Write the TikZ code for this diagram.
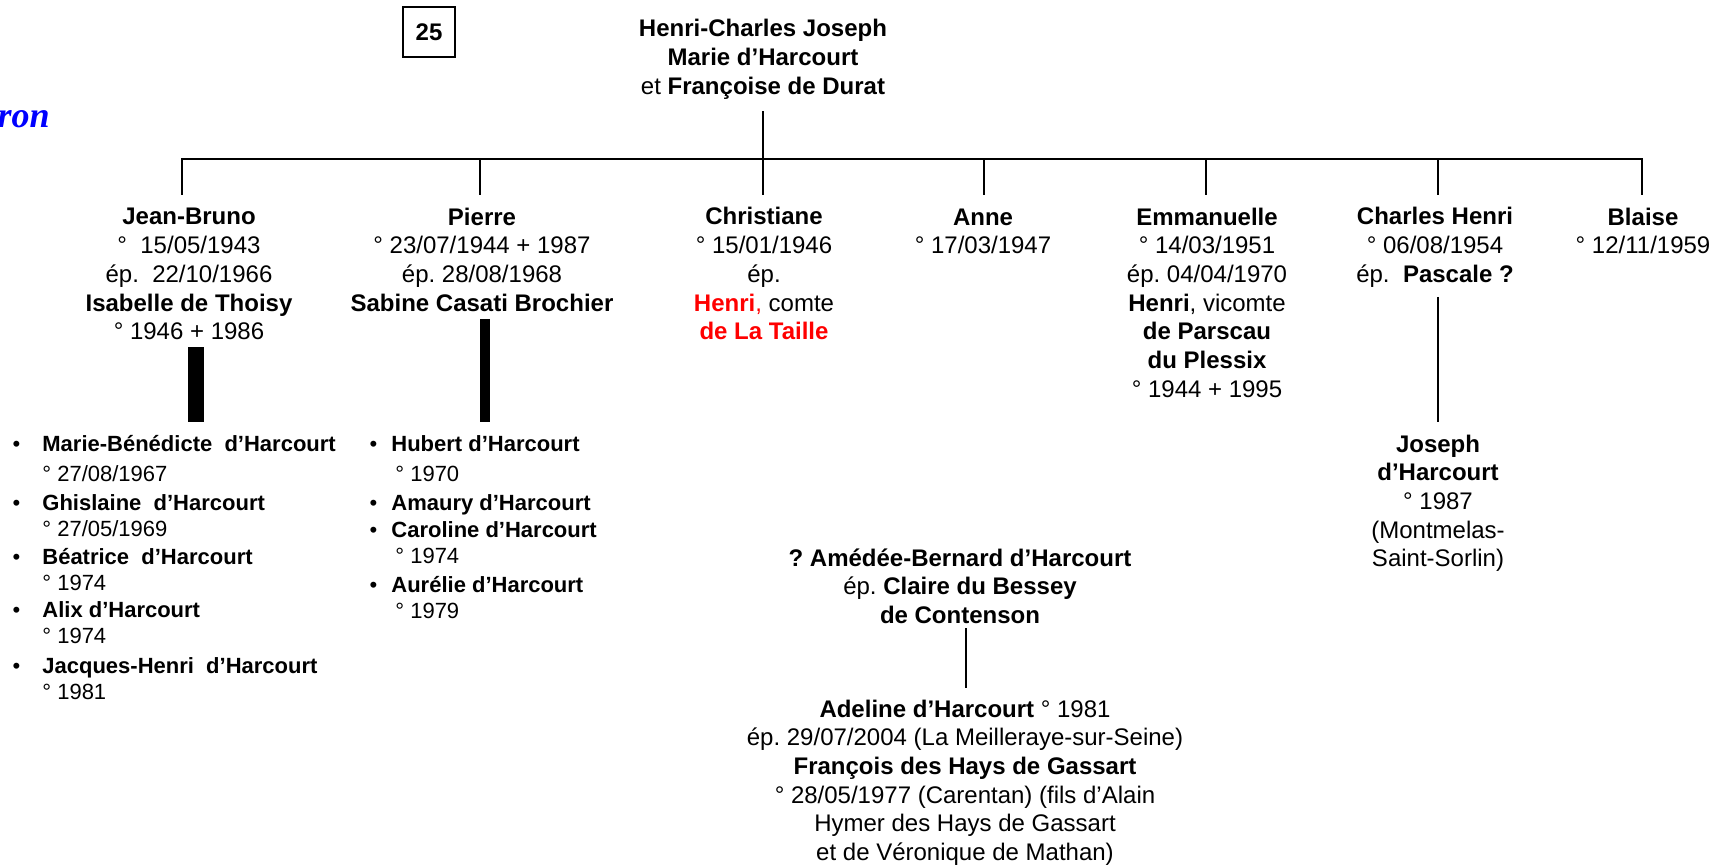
\documentclass[tikz,border=0pt]{standalone}
\usepackage{fontspec}
\setmainfont{Liberation Sans}
\newfontfamily\titrefont{Liberation Serif}
\usetikzlibrary{positioning}
\frenchspacing

\newcommand\haut[1]{\rule{0pt}{#1}}

\tikzset{
  lien/.style={line width=1.35pt},
  fiche/.style={align=center, anchor=north, inner sep=0pt, font=\fontsize{12}{14.35}\selectfont},
  enfant/.style={align=left, anchor=north west, inner sep=0pt, font=\fontsize{11}{13}\selectfont},
}

\begin{document}
\begin{tikzpicture}[x=0.5pt, y=-0.5pt]
  \useasboundingbox (0,0) rectangle (1733,866);

  \node[anchor=base east, inner sep=0pt, text=blue,
        font={\fontsize{18}{20}\titrefont\bfseries\itshape}] (titre) at (50,128) {ron};
  \node[draw, line width=0.7pt, minimum width=26pt, minimum height=25pt, inner sep=0pt,
        font=\fontsize{12}{14}\selectfont\bfseries] (num) at (429,32) {25};

  % parents
  \node[fiche] (hc) at (763,16.6) {\haut{10pt}\textbf{Henri-Charles Joseph}\\\textbf{Marie d’Harcourt}\\et \textbf{Françoise de Durat}};

  % enfants
  \node[fiche] (jb)  at (189,204.6)  {\haut{10pt}\textbf{Jean-Bruno}\\° \ 15/05/1943\\ép. \ 22/10/1966\\\textbf{Isabelle de Thoisy}\\° 1946 + 1986};
  \node[fiche] (pi)  at (482,204.6)  {\haut{10pt}\textbf{Pierre}\\° 23/07/1944 + 1987\\ép. 28/08/1968\\\textbf{Sabine Casati Brochier}};
  \node[fiche] (ch)  at (764,204.6)  {\haut{10pt}\textbf{Christiane}\\° 15/01/1946\\ép.\\\textcolor{red}{\textbf{Henri},} comte\\\textcolor{red}{\textbf{de La Taille}}};
  \node[fiche] (an)  at (983,204.6)  {\haut{10pt}\textbf{Anne}\\° 17/03/1947};
  \node[fiche] (em)  at (1207,204.6) {\haut{10pt}\textbf{Emmanuelle}\\° 14/03/1951\\ép. 04/04/1970\\\textbf{Henri}, vicomte\\\textbf{de Parscau}\\\textbf{du Plessix}\\° 1944 + 1995};
  \node[fiche] (chh) at (1435,204.6) {\haut{10pt}\textbf{Charles Henri}\\° 06/08/1954\\ép.\ \ \textbf{Pascale ?}};
  \node[fiche] (bl)  at (1643,204.6) {\haut{10pt}\textbf{Blaise}\\° 12/11/1959};

  % petits-enfants
  \node[enfant] (mb) at (42,433) {\llap{\textbullet\hspace{11pt}}\haut{9pt}\textbf{Marie-Bénédicte\ \ d’Harcourt}\\[2pt]° 27/08/1967};
  \node[enfant] (gh) at (42,492) {\llap{\textbullet\hspace{11pt}}\haut{9pt}\textbf{Ghislaine\ \ d’Harcourt}\\° 27/05/1969};
  \node[enfant] (be) at (42,546) {\llap{\textbullet\hspace{11pt}}\haut{9pt}\textbf{Béatrice\ \ d’Harcourt}\\° 1974};
  \node[enfant] (al) at (42,599) {\llap{\textbullet\hspace{11pt}}\haut{9pt}\textbf{Alix d’Harcourt}\\° 1974};
  \node[enfant] (jh) at (42,655) {\llap{\textbullet\hspace{11pt}}\haut{9pt}\textbf{Jacques-Henri\ \ d’Harcourt}\\° 1981};

  \node[enfant] (hu) at (391,433) {\llap{\textbullet\hspace{7pt}}\haut{9pt}\textbf{Hubert d’Harcourt}\\[2pt]\hspace{2pt}° 1970};
  \node[enfant] (am) at (391,492) {\llap{\textbullet\hspace{7pt}}\haut{9pt}\textbf{Amaury d’Harcourt}};
  \node[enfant] (ca) at (391,519) {\llap{\textbullet\hspace{7pt}}\haut{9pt}\textbf{Caroline d’Harcourt}\\\hspace{2pt}° 1974};
  \node[enfant] (au) at (391,574) {\llap{\textbullet\hspace{7pt}}\haut{9pt}\textbf{Aurélie d’Harcourt}\\\hspace{2pt}° 1979};

  \node[fiche] (jo) at (1438,431.6) {\haut{10pt}\textbf{Joseph}\\\textbf{d’Harcourt}\\° 1987\\(Montmelas-\\Saint-Sorlin)};

  \node[fiche] (ab) at (960,545.6) {\haut{10pt}\textbf{? Amédée-Bernard d’Harcourt}\\ép. \textbf{Claire du Bessey}\\\textbf{de Contenson}};
  \node[fiche] (ad) at (965,696.6) {\haut{10pt}\textbf{Adeline d’Harcourt} ° 1981\\ép. 29/07/2004 (La Meilleraye-sur-Seine)\\\textbf{François des Hays de Gassart}\\° 28/05/1977 (Carentan) (fils d’Alain\\Hymer des Hays de Gassart\\et de Véronique de Mathan)};

  % liens
  \foreach \x [count=\i] in {182,480,763,984,1206,1438,1642}
    \coordinate (d\i) at (\x,159);
  \draw[lien, shorten <=4.8pt, shorten >=4.8pt] (d1 |- jb.north) -- (d1) -- (d7) -- (d7 |- bl.north);
  \draw[lien, shorten <=5.7pt] (hc.south) -- (d3);
  \foreach \i/\n in {2/pi,3/ch,4/an,5/em,6/chh}
    \draw[lien, shorten >=4.8pt] (d\i) -- (d\i |- \n.north);

  \draw[line width=8pt, shorten <=3.3pt, shorten >=5.5pt] ([xshift=3.5pt]jb.south) -- ([xshift=3.5pt]jb.south |- mb.north);
  \draw[line width=5pt, shorten <=3.6pt, shorten >=5.5pt] ([xshift=1.5pt]pi.south) -- ([xshift=1.5pt]pi.south |- hu.north);
  \draw[lien, shorten <=4.5pt, shorten >=4.75pt] ([xshift=1.5pt]chh.south) -- ([xshift=1.5pt]chh.south |- jo.north);
  \draw[lien, shorten <=2pt, shorten >=4.25pt] ([xshift=3pt]ab.south) -- ([xshift=3pt]ab.south |- ad.north);
\end{tikzpicture}
\end{document}
